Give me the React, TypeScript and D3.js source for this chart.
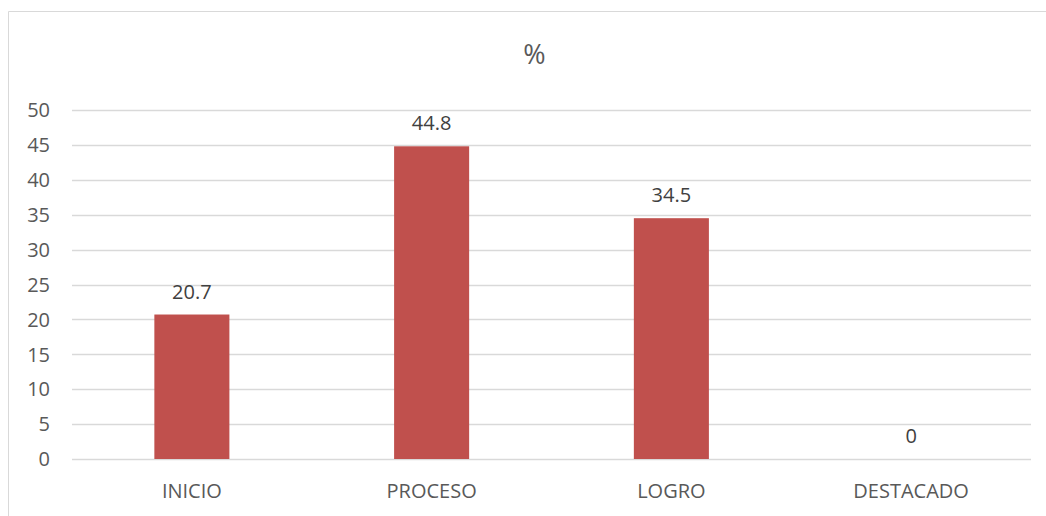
import React from "react";
import * as d3 from "d3";

const categories = ["INICIO", "PROCESO", "LOGRO", "DESTACADO"];
const values = [20.7, 44.8, 34.5, 0];
const valueLabels = ["20.7", "44.8", "34.5", "0"];
const yTicks = [0, 5, 10, 15, 20, 25, 30, 35, 40, 45, 50];
const title = "%";

const W = 1046;
const H = 516;
const plot = { left: 72, right: 1031, top: 110, bottom: 459 };

export default function App() {
  const x = d3
    .scaleBand<string>()
    .domain(categories)
    .range([plot.left, plot.right])
    .padding(0);
  const y = d3.scaleLinear().domain([0, 50]).range([plot.bottom, plot.top]);
  const barW = x.bandwidth() * 0.313;
  const font = "'Open Sans', 'Liberation Sans', sans-serif";
  const textColor = "#595959";

  return (
    <svg
      width={W}
      height={H}
      style={{ position: "absolute", left: 0, top: 0, display: "block", background: "#fff" }}
      fontFamily={font}
    >
      <rect x={0} y={0} width={W} height={H} fill="#fff" />
      {/* frame */}
      <line x1={8.5} y1={11.5} x2={W} y2={11.5} stroke="#D9D9D9" strokeWidth={1} />
      <line x1={8.5} y1={11.5} x2={8.5} y2={H} stroke="#D9D9D9" strokeWidth={1} />
      {/* title */}
      <text x={534.5} y={64} textAnchor="middle" fontSize={27} fill={textColor}>
        {title}
      </text>
      {/* gridlines and ticks */}
      {yTicks.map((t) => (
        <g key={t}>
          <line
            x1={plot.left}
            x2={plot.right}
            y1={Math.round(y(t)) + 0.5}
            y2={Math.round(y(t)) + 0.5}
            stroke="#D9D9D9"
            strokeWidth={1.3}
          />
          <text
            x={50}
            y={y(t)}
            dy="0.36em"
            textAnchor="end"
            fontSize={20}
            fill={textColor}
          >
            {t}
          </text>
        </g>
      ))}
      {/* bars */}
      {categories.map((c, i) => {
        const cx = (x(c) as number) + x.bandwidth() / 2;
        return (
          <g key={c}>
            {values[i] > 0 && (
              <rect
                x={cx - barW / 2}
                y={y(values[i])}
                width={barW}
                height={y(0) - y(values[i])}
                fill="#C0504D"
              />
            )}
            <text
              x={cx}
              y={y(values[i]) - 16}
              textAnchor="middle"
              fontSize={20}
              fill="#404040"
            >
              {valueLabels[i]}
            </text>
            <text x={cx} y={497.5} textAnchor="middle" fontSize={20} fill={textColor}>
              {c}
            </text>
          </g>
        );
      })}
    </svg>
  );
}
